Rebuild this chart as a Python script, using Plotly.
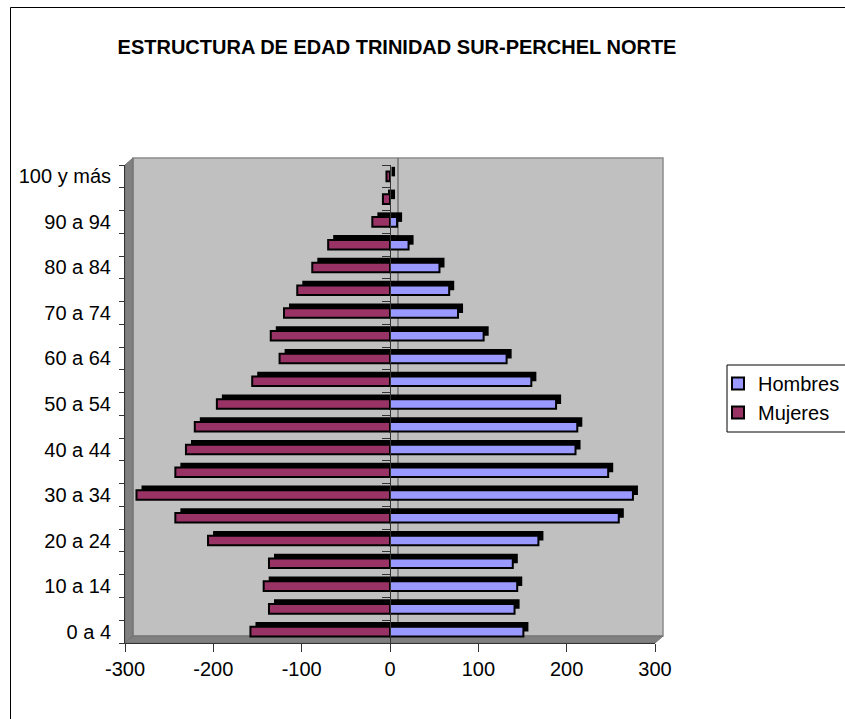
import plotly.graph_objects as go

categories = ["0 a 4", "5 a 9", "10 a 14", "15 a 19", "20 a 24", "25 a 29", "30 a 34",
              "35 a 39", "40 a 44", "45 a 49", "50 a 54", "55 a 59", "60 a 64", "65 a 69",
              "70 a 74", "75 a 79", "80 a 84", "85 a 89", "90 a 94", "95 a 99", "100 y más"]
hombres = [151, 141, 144, 139, 168, 259, 275, 247, 210, 212, 188, 160, 132, 106, 77, 67, 56, 21, 8, 0, 0]
mujeres = [158, 137, 143, 137, 206, 243, 287, 243, 231, 221, 196, 156, 125, 135, 120, 105, 88, 70, 20, 8, 4]
x_ticks = [-300, -200, -100, 0, 100, 200, 300]

W, H = 845, 719
L, R, T, B = 125, 655, 165, 643
FONT = "Liberation Sans, Arial, sans-serif"


def px(x):
    return (x - L) / (R - L)


def py(y):
    return (B - y) / (B - T)


idx = list(range(len(categories)))
muj_neg = [-v for v in mujeres]
depth = 5.7  # 3D depth of the bars, in axis units

fig = go.Figure()
# 3D top/side faces (black)
for vals in (muj_neg, hombres):
    fig.add_trace(go.Bar(y=idx, x=vals, base=depth, orientation="h", width=0.42, offset=0.0,
                         marker=dict(color="#000000", line=dict(width=0)),
                         showlegend=False, hoverinfo="skip", yaxis="y"))
# front faces
fig.add_trace(go.Bar(y=idx, x=hombres, orientation="h", name="Hombres", width=0.42, offset=-0.21,
                     marker=dict(color="#9999FF", line=dict(color="#000000", width=2)),
                     yaxis="y2", legendgroup="h"))
fig.add_trace(go.Bar(y=idx, x=muj_neg, orientation="h", name="Mujeres", width=0.42, offset=-0.21,
                     marker=dict(color="#993366", line=dict(color="#000000", width=2)),
                     yaxis="y2", legendgroup="m"))

dx, dy = 8, 7
shapes = [
    # back wall
    dict(type="rect", xref="paper", yref="paper", x0=px(L + dx), x1=px(R + dx), y0=py(B - dy), y1=py(T - dy),
         fillcolor="#C0C0C0", line=dict(color="#8C8C8C", width=1.5), layer="below"),
    # left wall
    dict(type="path", xref="paper", yref="paper",
         path=f"M {px(L)} {py(B)} L {px(L)} {py(T)} L {px(L+dx)} {py(T-dy)} L {px(L+dx)} {py(B-dy)} Z",
         fillcolor="#808080", line=dict(color="#707070", width=1), layer="below"),
    # floor
    dict(type="path", xref="paper", yref="paper",
         path=f"M {px(L)} {py(B)} L {px(L+dx)} {py(B-dy)} L {px(R+dx)} {py(B-dy)} L {px(R)} {py(B)} Z",
         fillcolor="#808080", line=dict(color="#707070", width=1), layer="below"),
    # back-wall zero line
    dict(type="line", xref="paper", yref="paper", x0=0.5 + dx / (R - L), x1=0.5 + dx / (R - L),
         y0=py(B - dy), y1=py(T - dy), line=dict(color="#606060", width=1.2), layer="below"),
    # legend box
    dict(type="rect", xref="paper", yref="paper", x0=px(727), x1=px(880), y0=py(432), y1=py(365),
         line=dict(color="#000000", width=1), fillcolor="#FFFFFF", layer="below"),
    # chart area border
    dict(type="rect", xref="paper", yref="paper", x0=px(10.5), x1=px(860), y0=py(740), y1=py(7.5),
         line=dict(color="#000000", width=1), fillcolor="rgba(0,0,0,0)", layer="above"),
]

fig.update_layout(
    width=W, height=H,
    margin=dict(l=L, r=W - R, t=T, b=H - B, pad=0, autoexpand=False),
    paper_bgcolor="#FFFFFF", plot_bgcolor="rgba(0,0,0,0)",
    barmode="overlay",
    font=dict(family=FONT, size=20, color="#000000"),
    title=dict(text="<b>ESTRUCTURA DE EDAD TRINIDAD SUR-PERCHEL NORTE</b>",
               x=397 / W, xanchor="center", y=1 - 47 / H, yanchor="middle",
               font=dict(family=FONT, size=20, color="#000000")),
    xaxis=dict(range=[-300, 300], tickmode="array", tickvals=x_ticks, ticktext=[str(v) for v in x_ticks],
               ticks="outside", ticklen=8, tickcolor="#333333", showline=True, linecolor="#333333",
               showgrid=False, zeroline=False, fixedrange=True, automargin=False,
               tickfont=dict(family=FONT, size=20, color="#000000")),
    yaxis=dict(range=[-0.5, len(categories) - 0.5], tickmode="array", tickvals=idx[::2],
               ticktext=categories[::2], ticks="", showline=True, linecolor="#333333",
               showgrid=False, zeroline=False, ticklabelstandoff=9, automargin=False,
               minor=dict(tickmode="linear", tick0=-0.5, dtick=1, ticks="outside", ticklen=5,
                          tickcolor="#333333", showgrid=False),
               tickfont=dict(family=FONT, size=20, color="#000000")),
    yaxis2=dict(range=[-0.5, len(categories) - 0.5], overlaying="y", anchor="free", position=0.5,
                side="left", showline=True, linecolor="#333333", showticklabels=False, ticks="",
                showgrid=False, zeroline=False, automargin=False,
                minor=dict(tickmode="linear", tick0=-0.5, dtick=1, ticks="outside", ticklen=8,
                           tickcolor="#333333", showgrid=False)),
    legend=dict(x=px(718), y=py(364), xanchor="left", yanchor="top",
                borderwidth=0, bgcolor="rgba(0,0,0,0)",
                font=dict(family=FONT, size=20, color="#000000"),
                tracegroupgap=6, traceorder="normal", itemclick=False),
    shapes=shapes,
)

fig.write_html("out.html", config={"displayModeBar": False},
               post_script="document.body.style.margin='0';document.body.style.overflow='hidden';")
